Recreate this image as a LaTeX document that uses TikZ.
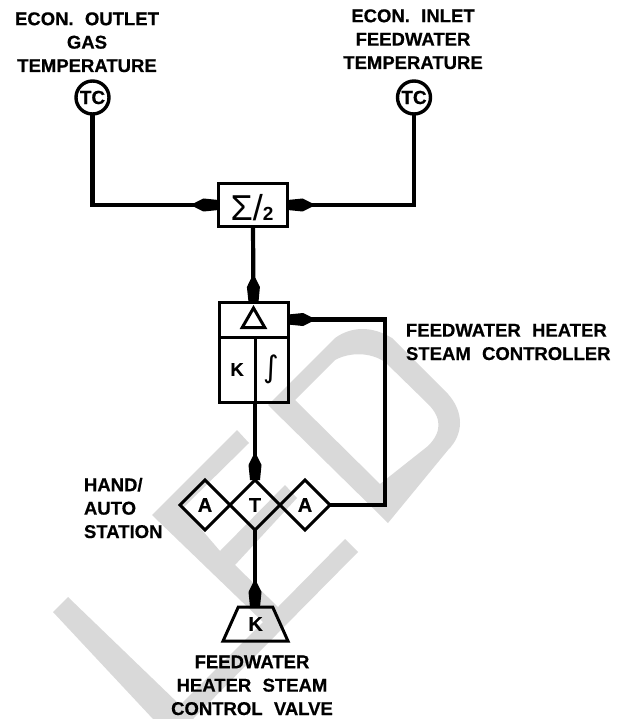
\documentclass[tikz,border=0pt]{standalone}
\usepackage{fontspec}
\setmainfont{Liberation Sans}
\newfontfamily\lab[WordSpace=2.2,FakeBold=0.5]{Liberation Sans Bold}
\newfontfamily\sym{DejaVu Sans}
\usetikzlibrary{arrows.meta,shapes.geometric}
\definecolor{wm}{HTML}{D9D9D9}
\pgfdeclarearrow{
  name=BluntKite,
  setup code={%
    \pgfarrowssettipend{0pt}%
    \pgfarrowssetbackend{-24pt}%
    \pgfarrowssetlineend{-12pt}%
    \pgfarrowssetvisualbackend{-24pt}%
    \pgfarrowshullpoint{0pt}{5pt}%
    \pgfarrowshullpoint{0pt}{-5pt}%
    \pgfarrowshullpoint{-15pt}{6.5pt}%
    \pgfarrowshullpoint{-15pt}{-6.5pt}%
    \pgfarrowshullpoint{-24pt}{0pt}%
  },
  drawing code={%
    \pgfpathmoveto{\pgfqpoint{0pt}{5pt}}%
    \pgfpathlineto{\pgfqpoint{-15pt}{6.5pt}}%
    \pgfpathlineto{\pgfqpoint{-24pt}{2.1pt}}%
    \pgfpathlineto{\pgfqpoint{-24pt}{-2.1pt}}%
    \pgfpathlineto{\pgfqpoint{-15pt}{-6.5pt}}%
    \pgfpathlineto{\pgfqpoint{0pt}{-5pt}}%
    \pgfpathclose
    \pgfusepathqfill
  }
}
\tikzset{
  wmark/.style={fill=wm,draw=none},
  conn/.style={line width=4.2pt,line join=miter},
  flow/.style={conn,-{BluntKite}},
  inst/.style={circle,draw,line width=3.4pt,minimum size=33pt,inner sep=0pt,outer sep=1.5pt,font=\lab\fontsize{19}{19}\selectfont},
  cell/.style={rectangle,draw,line width=3pt,inner sep=0pt,outer sep=0pt,font=\lab\fontsize{18.5}{18.5}\selectfont},
  dia/.style={diamond,aspect=1,draw,line width=3pt,minimum size=50pt,inner sep=0pt,outer sep=0pt,font=\lab\fontsize{20}{20}\selectfont},
  lbl/.style={inner sep=0pt,outer sep=0pt,font=\lab\fontsize{18.5}{23.4}\selectfont}
}
\begin{document}
\begin{tikzpicture}[x=1pt,y=-1pt]
\useasboundingbox (0,0) rectangle (625,719);
% watermark
\fill[wmark] (53,612) -- (68,597) -- (180,705) -- (263,622) -- (152,515) -- (237,430) -- (249,443) -- (183,508) -- (220,551) -- (285,485) -- (297,498) -- (235,565) -- (278,607) -- (345,539) -- (358,552) -- (193,719) -- (153,719) -- cycle;
\fill[wmark,even odd rule] (268,405) -- (335,338) .. controls (352,326) and (372,326) .. (392,338) -- (448,394) .. controls (464,412) and (464,434) .. (448,450) -- (388,523) -- cycle
  (295,400) -- (335,360) .. controls (350,352) and (370,352) .. (385,362) -- (428,404) .. controls (442,418) and (442,432) .. (428,446) -- (380,484) -- cycle;
% labels
\node[lbl,align=center,anchor=base] (l1) at (87,72) {ECON. OUTLET\\GAS\\TEMPERATURE};
\node[lbl,align=center,anchor=base] (l2) at (413,69) {ECON. INLET\\FEEDWATER\\TEMPERATURE};
\node[lbl,align=left,anchor=base west] (l3) at (406,360) {FEEDWATER HEATER\\STEAM CONTROLLER};
\node[lbl,align=left,anchor=base west] (l4) at (84,538) {HAND/\\AUTO\\STATION};
\node[lbl,align=center,anchor=base] (l5) at (252,715) {FEEDWATER\\HEATER STEAM\\CONTROL VALVE};
% instruments
\node[inst] (tc1) at (92.5,97.5) {TC};
\node[inst] (tc2) at (414,97.5) {TC};
\node[cell,minimum width=69pt,minimum height=43pt] (sum) at (253,205) {};
\node[anchor=base,inner sep=0pt] (sumtxt) at (252,220) {\fontsize{36}{36}\selectfont Σ/\fontsize{19}{19}\selectfont\bfseries 2};
% controller
\node[cell,minimum width=69pt,minimum height=35pt] (delta) at (253.5,319.5) {};
\node[regular polygon,regular polygon sides=3,draw,line width=3pt,minimum size=26pt,inner sep=0pt] (tri) at (253.5,321) {};
\node[cell,minimum width=36pt,minimum height=65pt] (kcell) at (237,369.5) {K};
\node[cell,minimum width=33pt,minimum height=65pt] (icell) at (271.5,369.5) {\sym\fontsize{30}{30}\selectfont ∫};
% station
\node[dia] (a1) at (205,505) {A};
\node[dia] (t) at (255,505) {T};
\node[dia] (a2) at (305,505) {A};
% valve
\node[trapezium,trapezium stretches=true,draw,line width=3pt,minimum width=65pt,minimum height=34pt,trapezium left angle=65,trapezium right angle=65,inner sep=0pt,outer sep=0pt,font=\lab\fontsize{20}{20}\selectfont] (valve) at (255.5,624) {K};
% connectors
\coordinate (turn) at (385,505);
\draw[flow] (tc1.south) |- (sum.west);
\draw[flow] (tc2.south) |- (sum.east);
\draw[flow] (sum.south) -- (delta.north);
\draw[flow] (icell.south west) -- (t.north);
\draw[flow] (t.south) -- (valve.north -| t.south);
\draw[flow] (a2.east) -- (turn) |- (delta.east);
\end{tikzpicture}
\end{document}
